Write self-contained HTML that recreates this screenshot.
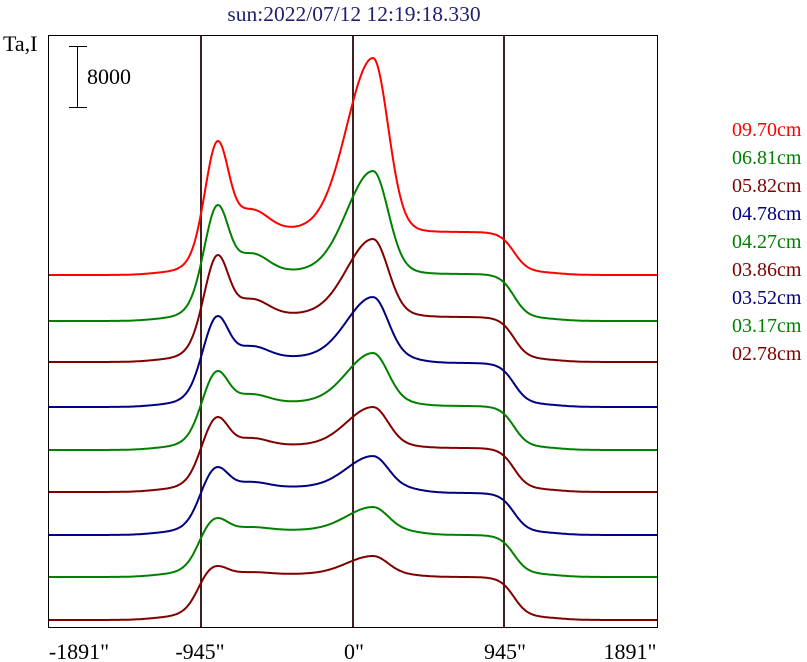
<!DOCTYPE html><html><head><style>body{margin:0;background:#fff}svg{display:block}</style></head><body>
<svg id="s" width="807" height="662" xmlns="http://www.w3.org/2000/svg" font-family="Liberation Serif, serif">
<text x="354" y="21" font-size="21.5" fill="#202070" text-anchor="middle">sun:2022/07/12 12:19:18.330</text>
<text x="3" y="51" font-size="22" fill="#000">Ta,I</text>
<rect x="48.5" y="35.5" width="609" height="592" fill="none" stroke="#000" stroke-width="1"/>
<line x1="77.5" y1="46" x2="77.5" y2="107" stroke="#000"/>
<line x1="69" y1="46.5" x2="87" y2="46.5" stroke="#000"/>
<line x1="69" y1="107.5" x2="87" y2="107.5" stroke="#000"/>
<text x="87" y="84" font-size="22">8000</text>
<g stroke="#402020" stroke-width="2"><line x1="201" y1="36" x2="201" y2="627"/><line x1="353" y1="36" x2="353" y2="627"/><line x1="504" y1="36" x2="504" y2="627"/></g>
<g id="c" fill="none" stroke-width="2"></g>
<g font-size="22" text-anchor="middle"><text x="79" y="659">-1891"</text><text x="200" y="659">-945"</text><text x="354" y="659">0"</text><text x="505" y="659">945"</text><text x="630" y="659">1891"</text></g>
<g font-size="20"><text x="732" y="136" fill="#ff0000">09.70cm</text><text x="732" y="164" fill="#008000">06.81cm</text><text x="732" y="192" fill="#800000">05.82cm</text><text x="732" y="220" fill="#000080">04.78cm</text><text x="732" y="248" fill="#008000">04.27cm</text><text x="732" y="276" fill="#800000">03.86cm</text><text x="732" y="304" fill="#000080">03.52cm</text><text x="732" y="332" fill="#008000">03.17cm</text><text x="732" y="360" fill="#800000">02.78cm</text></g>
</svg>
<script>
var cv=[["#ff0000",275,131,43,214,40],["#008000",321,113,47,147,44],["#800000",362,104,45,120,42],["#000080",407,88,47,107,41],["#008000",450,76,45,94,41],["#800000",492,72,44,82,41],["#000080",535,65,45,76,39],["#008000",577,56,44,67,39],["#800000",620,51,43,61,40]];
function sg(z){return 1/(1+Math.exp(-z));}
function G(x,m,s){return Math.exp(-(x-m)*(x-m)/(2*s*s));}
var g=document.getElementById('c');
cv.forEach(function(c){var b=c[1],P=c[2],D=c[3],C=c[4],R=c[5];
var k=Math.min(1,Math.max(0.1,(P-D)/80));
var s='';
for(var x=49;x<=657;x++){
 var S=sg((x-197)/8)*sg((514-x)/7);
 var base=D+(R-D)*sg((x-420)/10);
 var v=base*S + 0.45*D*k*G(x,252,16)*S;
 v+=Math.max(0,P-v)*G(x,218,11);
 var sc=x<373?26:15;
 v+=(C-D)*G(x,373,sc);
 v+=3*sg((x-150)/10)*sg((560-x)/10);
 s+=(x==49?'M':'L')+x+' '+(b-v).toFixed(1)+' ';}
var e=document.createElementNS('http://www.w3.org/2000/svg','path');e.setAttribute('d',s);e.setAttribute('stroke',c[0]);g.appendChild(e);});
</script>
</body></html>
